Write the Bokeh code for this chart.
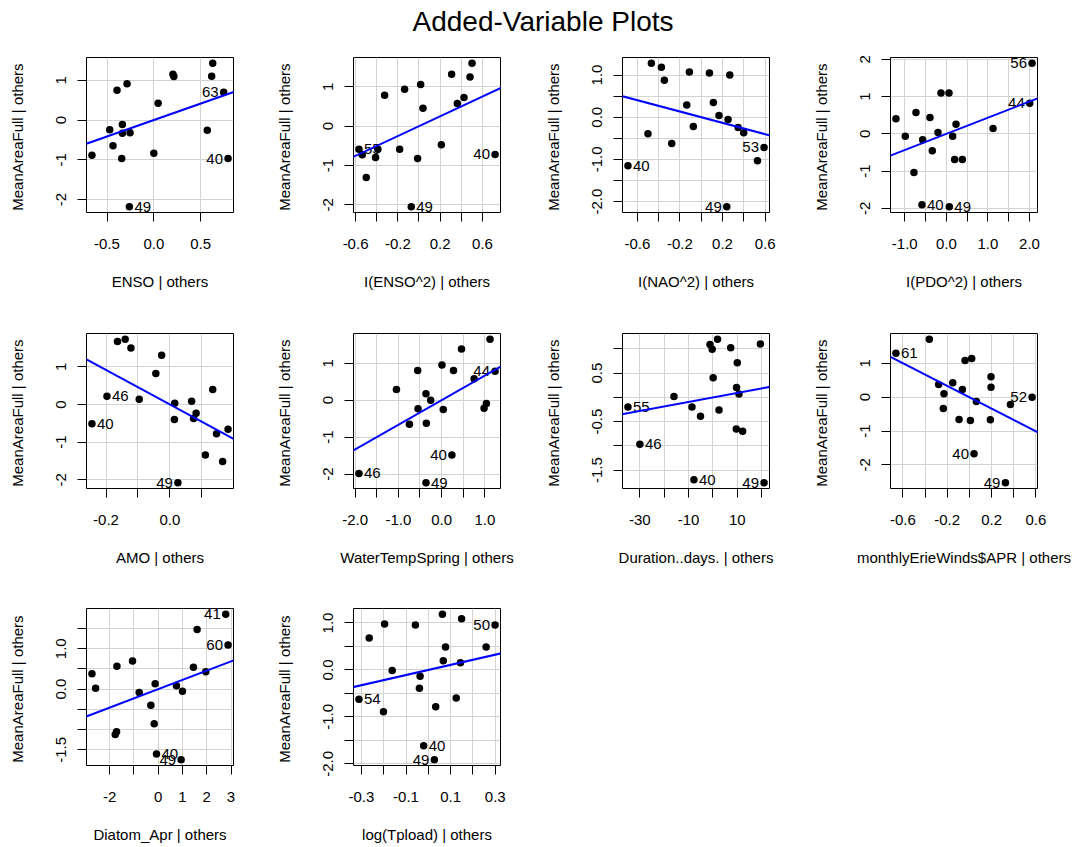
from bokeh.plotting import figure
from bokeh.layouts import column, row
from bokeh.models import Range1d, FixedTicker, CustomJSTickFormatter, Slope, ColumnDataSource, Label
from bokeh.embed import file_html
from bokeh.resources import INLINE
from bokeh.core.properties import value

FONT = "Liberation Sans"

# ---------------- data ----------------
title = "Added-Variable Plots"
y_label = "MeanAreaFull  | others"
x_labels = ["ENSO | others", "I(ENSO^2) | others", "I(NAO^2) | others", "I(PDO^2) | others",
            "AMO | others", "WaterTempSpring | others", "Duration..days. | others",
            "monthlyErieWinds$APR | others", "Diatom_Apr | others", "log(Tpload) | others"]

x1 = [-0.661, -0.471, -0.436, -0.393, -0.286, -0.336, -0.336, -0.254, -0.343, -0.261, 0.000, 0.046, 0.204, 0.214, 0.571, 0.629, 0.618, 0.746, 0.793]
y1 = [-0.886, -0.242, -0.643, 0.752, 0.911, -0.109, -0.334, -0.317, -0.969, -2.180, -0.835, 0.426, 1.153, 1.094, -0.259, 1.429, 1.103, 0.702, -0.969]
l1 = {9: "49", 17: "63", 18: "40"}

x2 = [-0.568, -0.537, -0.499, -0.411, -0.389, -0.325, -0.183, -0.136, -0.013, 0.016, 0.038, -0.073, 0.212, 0.309, 0.363, 0.426, 0.483, 0.502, 0.720]
y2 = [-0.583, -0.727, -1.302, -0.795, -0.583, 0.786, -0.583, 0.938, -0.820, 1.057, 0.456, -2.046, -0.473, 1.319, 0.575, 0.727, 1.251, 1.598, -0.719]
l2 = {0: "55", 11: "49", 18: "40"}

x3 = [-0.688, -0.500, -0.468, -0.374, -0.346, -0.277, -0.136, -0.111, -0.074, 0.077, 0.114, 0.167, 0.240, 0.252, 0.268, 0.346, 0.399, 0.528, 0.590]
y3 = [-1.152, -0.395, 1.279, 1.184, 0.876, -0.624, 0.292, 1.073, -0.221, 1.050, 0.347, 0.039, -2.123, -0.055, 1.002, -0.245, -0.371, -1.034, -0.718]
l3 = {0: "40", 12: "49", 18: "53"}

x4 = [-1.211, -0.986, -0.730, -0.778, -0.569, -0.585, -0.393, -0.337, -0.200, -0.128, 0.064, 0.072, 0.152, 0.200, 0.233, 0.385, 1.123, 2.005, 2.061]
y4 = [0.402, -0.063, 0.571, -1.036, -0.161, -1.902, 0.438, -0.455, 0.036, 1.098, 1.098, -1.955, -0.063, -0.688, 0.259, -0.688, 0.143, 0.821, 1.893]
l4 = {5: "40", 11: "49", 17: "44", 18: "56"}

x5 = [-0.244, -0.197, -0.164, -0.140, -0.122, -0.096, -0.044, -0.026, 0.015, 0.014, 0.025, 0.068, 0.074, 0.082, 0.111, 0.134, 0.146, 0.165, 0.182]
y5 = [-0.513, 0.221, 1.673, 1.735, 1.504, 0.142, 0.823, 1.310, 0.035, -0.398, -2.080, 0.088, -0.372, -0.230, -1.345, 0.398, -0.779, -1.513, -0.655]
l5 = {0: "40", 1: "46", 10: "49"}

x6 = [-1.911, -1.044, -0.744, -0.553, -0.545, -0.361, -0.353, -0.253, -0.361, 0.008, 0.038, 0.238, 0.276, 0.460, 0.752, 0.982, 1.036, 1.120, 1.236]
y6 = [-1.982, 0.288, -0.649, 0.802, -0.234, 0.171, -0.622, 0.000, -2.234, 0.955, -0.252, -1.486, 0.802, 1.387, 0.577, -0.216, -0.090, 1.649, 0.784]
l6 = {0: "46", 8: "49", 11: "40", 18: "44"}

x7 = [-34.9, -30.0, -16.0, -8.6, -7.8, -5.1, -1.2, -0.3, 0.1, 1.9, 2.5, 7.3, 9.7, 10.0, 10.7, 9.6, 12.2, 19.5, 21.0]
y7 = [-0.199, -0.966, 0.021, -0.199, -1.699, -0.390, 1.089, 0.993, 0.404, 1.199, -0.260, 1.021, 0.205, 0.712, 0.068, -0.651, -0.699, 1.103, -1.760]
l7 = {0: "55", 1: "46", 4: "40", 18: "49"}

x8 = [-0.662, -0.361, -0.277, -0.235, -0.229, -0.150, -0.093, -0.063, -0.039, 0.021, 0.009, 0.042, 0.063, 0.189, 0.195, 0.195, 0.325, 0.370, 0.565]
y8 = [1.298, 1.711, 0.374, -0.334, 0.098, 0.423, -0.659, 0.226, 1.082, 1.141, -0.688, -1.672, -0.128, -0.669, 0.600, 0.295, -2.527, -0.216, 0.000]
l8 = {0: "61", 11: "40", 16: "49", 18: "52"}

x9 = [-2.726, -2.575, -1.767, -1.712, -1.699, -1.055, -0.781, -0.301, -0.164, -0.123, -0.068, 0.945, 0.753, 1.000, 1.452, 1.603, 1.959, 2.781, 2.877]
y9 = [0.382, 0.025, -1.121, -1.055, 0.565, 0.698, -0.083, -0.399, -0.855, 0.133, -1.603, -1.744, 0.083, -0.050, 0.540, 1.478, 0.432, 1.852, 1.096]
l9 = {10: "40", 11: "49", 17: "41", 18: "60"}

x10 = [-0.311, -0.265, -0.201, -0.196, -0.162, -0.058, -0.040, -0.037, -0.021, 0.027, 0.033, 0.063, 0.067, 0.077, 0.125, 0.144, 0.149, 0.259, 0.299]
y10 = [-0.625, 0.682, -0.890, 0.976, -0.014, 0.955, -0.388, -0.136, -1.615, -1.910, -0.782, 1.184, 0.194, 0.488, -0.596, 0.151, 1.091, 0.488, 0.955]
l10 = {0: "54", 8: "40", 9: "49", 18: "50"}

slopes = [0.826, 1.254, -0.672, 0.433, -4.59, 0.667, 0.00926, -1.678, 0.229, 1.082]

x_ticks = [
    ([-0.5, 0.0, 0.5], ["-0.5", "0.0", "0.5"]),
    ([-0.6, -0.4, -0.2, 0.0, 0.2, 0.4, 0.6], ["-0.6", "", "-0.2", "", "0.2", "", "0.6"]),
    ([-0.6, -0.4, -0.2, 0.0, 0.2, 0.4, 0.6], ["-0.6", "", "-0.2", "", "0.2", "", "0.6"]),
    ([-1.0, -0.5, 0.0, 0.5, 1.0, 1.5, 2.0], ["-1.0", "", "0.0", "", "1.0", "", "2.0"]),
    ([-0.2, -0.1, 0.0, 0.1], ["-0.2", "", "0.0", ""]),
    ([-2.0, -1.5, -1.0, -0.5, 0.0, 0.5, 1.0], ["-2.0", "", "-1.0", "", "0.0", "", "1.0"]),
    ([-30, -20, -10, 0, 10, 20], ["-30", "", "-10", "", "10", ""]),
    ([-0.6, -0.4, -0.2, 0.0, 0.2, 0.4, 0.6], ["-0.6", "", "-0.2", "", "0.2", "", "0.6"]),
    ([-2, -1, 0, 1, 2, 3], ["-2", "", "0", "1", "2", "3"]),
    ([-0.3, -0.2, -0.1, 0.0, 0.1, 0.2, 0.3], ["-0.3", "", "-0.1", "", "0.1", "", "0.3"]),
]
y_ticks = [
    ([-2, -1, 0, 1], ["-2", "-1", "0", "1"]),
    ([-2, -1, 0, 1], ["-2", "-1", "0", "1"]),
    ([-2.0, -1.5, -1.0, -0.5, 0.0, 0.5, 1.0], ["-2.0", "", "-1.0", "", "0.0", "", "1.0"]),
    ([-2, -1, 0, 1, 2], ["-2", "-1", "0", "1", "2"]),
    ([-2, -1, 0, 1], ["-2", "-1", "0", "1"]),
    ([-2, -1, 0, 1], ["-2", "-1", "0", "1"]),
    ([-1.5, -1.0, -0.5, 0.0, 0.5, 1.0], ["-1.5", "", "-0.5", "", "0.5", ""]),
    ([-2, -1, 0, 1], ["-2", "-1", "0", "1"]),
    ([-1.5, -1.0, -0.5, 0.0, 0.5, 1.0, 1.5], ["-1.5", "", "", "0.0", "", "1.0", ""]),
    ([-2.0, -1.5, -1.0, -0.5, 0.0, 0.5, 1.0], ["-2.0", "", "-1.0", "", "0.0", "", "1.0"]),
]

xs = [x1, x2, x3, x4, x5, x6, x7, x8, x9, x10]
ys = [y1, y2, y3, y4, y5, y6, y7, y8, y9, y10]
labs = [l1, l2, l3, l4, l5, l6, l7, l8, l9, l10]

# ---------------- layout ----------------
COL_L = [86, 84, 84, 84]
COL_R = [36, 38, 37, 38]
FRAME_W = 147
ROW_TOP = [15, 41, 40]
ROW_BOT = [80, 80, 79]
FRAME_H = [155, 155, 158]

FMT_CODE = """
for (let i = 0; i < t.length; i++) { if (Math.abs(t[i] - tick) < 1e-9) return l[i]; }
return '';
"""


def style_axis(ax, ticks, labels, label_standoff, axis_standoff):
    ax.ticker = FixedTicker(ticks=ticks)
    ax.formatter = CustomJSTickFormatter(args=dict(t=ticks, l=labels), code=FMT_CODE)
    ax.major_tick_out = 9
    ax.major_tick_in = 0
    ax.minor_tick_out = 0
    ax.minor_tick_in = 0
    ax.major_tick_line_color = "black"
    ax.axis_line_color = None
    ax.major_label_text_font = FONT
    ax.major_label_text_font_size = "15px"
    ax.major_label_text_color = "black"
    ax.major_label_standoff = label_standoff
    ax.axis_label_text_font = FONT
    ax.axis_label_text_font_size = "15px"
    ax.axis_label_text_font_style = "normal"
    ax.axis_label_text_color = "black"
    ax.axis_label_standoff = axis_standoff


def make_panel(i):
    r, c = divmod(i, 4)
    x = xs[i]
    y = ys[i]
    xr = max(x) - min(x)
    yr = max(y) - min(y)
    p = figure(width=COL_L[c] + FRAME_W + COL_R[c], height=ROW_TOP[r] + FRAME_H[r] + ROW_BOT[r],
               x_range=Range1d(min(x) - 0.04 * xr, max(x) + 0.04 * xr),
               y_range=Range1d(min(y) - 0.04 * yr, max(y) + 0.04 * yr),
               output_backend="svg", toolbar_location=None,
               min_border_left=COL_L[c], min_border_right=COL_R[c],
               min_border_top=ROW_TOP[r], min_border_bottom=ROW_BOT[r])
    p.outline_line_color = "black"
    p.outline_line_width = 1
    p.outline_line_alpha = 1
    p.background_fill_color = "white"
    p.border_fill_color = "white"

    xt, xl = x_ticks[i]
    yt, yl = y_ticks[i]
    style_axis(p.xaxis[0], xt, xl, 17, 21)
    style_axis(p.yaxis[0], yt, yl, 11, 28)
    p.yaxis[0].major_label_orientation = "vertical"
    p.xaxis[0].axis_label = x_labels[i]
    p.yaxis[0].axis_label = y_label

    p.xgrid.ticker = FixedTicker(ticks=xt)
    p.ygrid.ticker = FixedTicker(ticks=yt)
    for g in (p.xgrid[0], p.ygrid[0]):
        g.grid_line_color = "#d3d3d3"
        g.grid_line_width = 1

    p.scatter(x, y, size=7.5, marker="circle", fill_color="black", line_color=None)

    p.add_layout(Slope(gradient=slopes[i], y_intercept=0, line_color="blue", line_width=2))

    mid = (min(x) + max(x)) / 2
    lx, ly, lt, la, lo = [], [], [], [], []
    for k, t in labs[i].items():
        lx.append(x[k])
        ly.append(y[k])
        lt.append(t)
        left = x[k] > mid
        la.append("right" if left else "left")
        lo.append(-5 if left else 5)
    src = ColumnDataSource(dict(x=lx, y=ly, text=lt, align=la, off=lo))
    p.text(x="x", y="y", text="text", source=src, text_align="align", x_offset="off",
           text_baseline="middle", text_font=value(FONT), text_font_size=value("15px"),
           text_color="black")
    return p


panels = [make_panel(i) for i in range(10)]

TOTAL_W = sum(COL_L) + 4 * FRAME_W + sum(COL_R)
tp = figure(width=TOTAL_W, height=42, x_range=Range1d(0, TOTAL_W), y_range=Range1d(0, 42),
            output_backend="svg", toolbar_location=None, min_border=0,
            x_axis_location=None, y_axis_location=None)
tp.grid.visible = False
tp.outline_line_color = None
tp.add_layout(Label(x=542.5, y=21, x_units="screen", y_units="screen", text=title,
                    text_align="center", text_baseline="middle",
                    text_font=FONT, text_font_size="28px", text_color="black"))

layout = column(tp, row(*panels[0:4]), row(*panels[4:8]), row(*panels[8:10]))

open("out.html", "w").write(file_html(layout, INLINE))
